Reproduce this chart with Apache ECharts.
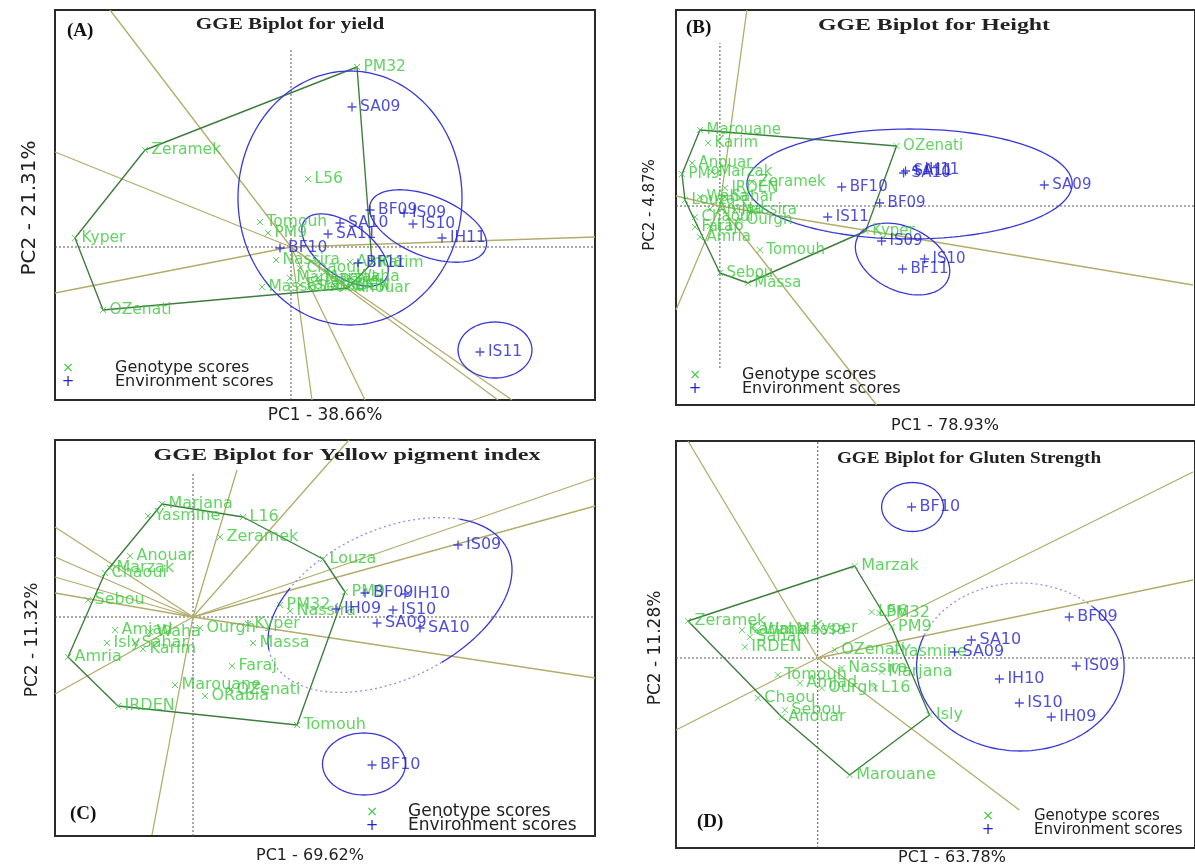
<!DOCTYPE html>
<html><head><meta charset="utf-8">
<script src="https://cdn.jsdelivr.net/npm/echarts@6/dist/echarts.min.js"></script>
<style>html,body{margin:0;padding:0;background:#fff}#c{width:1195px;height:868px}</style>
</head><body><div id="c"></div>
<script>
// ---------- Panel A : yield ----------
const genoA_names = ["PM32","Zeramek","Kyper","OZenati","L56","Tomouh","PM9","Nassira","Massa","Chaoui","Amria","Marzak","Sebou","IRDEN","Faraj","Isly","Marjana","Karim","Anouar","Waha"];
const genoA_pc1 = [6.6,-14.6,-21.6,-18.8,1.7,-3.1,-2.3,-1.5,-2.9,0.9,5.9,2.7,1.9,4.4,0.9,6.4,-0.1,8.1,5.7,5.9];
const genoA_pc2 = [18.0,9.7,0.9,-6.3,6.8,2.5,1.4,-1.3,-4.0,-2.1,-1.5,-3.1,-4.0,-3.9,-3.8,-3.7,-3.1,-1.6,-4.1,-3.0];
const envA_names = ["SA09","BF09","IS09","IS10","IH11","SA10","SA11","BF10","BF11","IS11"];
const envA_pc1 = [6.1,7.9,11.3,12.2,15.1,4.9,3.7,-1.1,6.7,18.9];
const envA_pc2 = [14.0,3.7,3.4,2.3,0.9,2.4,1.3,-0.1,-1.6,-10.5];
const hullA = ["PM32","Karim","Anouar","OZenati","Kyper","Zeramek"];
const raysA_pc1 = [-18.1,-23.6,-23.6,30.4,2.1,7.4,20.7,22.1];
const raysA_pc2 = [23.7,9.5,-4.6,1.0,-15.3,-15.3,-15.3,-15.3];
// ellipses: centre pc1, centre pc2, semi-axis a, semi-axis b, tilt (deg)
const ellA = [[5.9,4.9,11.2,12.7,0],[13.7,2.1,6.2,3.0,-22],[5.4,-0.3,5.0,2.6,-36],[20.4,-10.3,3.7,2.8,0]];

// ---------- Panel B : height ----------
const genoB_names = ["Marouane","Karim","Anouar","PM9","Marzak","Zeramek","IRDEN","Waha","Louza","Chaoui","Faraj","Amria","Amjad","Sahar","Nassira","Ourgh","L16","Tomouh","Sebou","Massa","OZenati","Kyper"];
const genoB_pc1 = [-2.0,-1.2,-2.8,-3.8,-0.8,3.2,0.5,-2.0,-3.5,-2.5,-2.5,-2.0,-1.0,0.5,1.5,2.0,-1.0,4.0,0.0,2.8,17.7,14.6];
const genoB_pc2 = [7.6,6.3,4.3,3.2,3.4,2.4,1.8,0.9,0.6,-1.1,-2.1,-3.1,-0.3,0.9,-0.4,-1.4,-2.0,-4.4,-6.7,-7.7,6.0,-2.5];
const envB_names = ["SA11","SA10","IH11","SA09","BF10","BF09","IS11","IS09","IS10","BF11"];
const envB_pc1 = [18.6,18.4,19.7,32.5,12.2,16.0,10.8,16.2,20.5,18.3];
const envB_pc2 = [3.5,3.3,3.6,2.1,1.9,0.3,-1.1,-3.5,-5.3,-6.3];
const hullB = ["Marouane","OZenati","Kyper","Massa","Sebou","Louza","PM9"];
const raysB_pc1 = [2.7,47.4,15.7,-4.4,-4.4];
const raysB_pc2 = [19.6,-7.9,-19.9,-10.4,1.0];
const ellB = [[19.0,2.2,16.3,5.5,0],[18.3,-5.3,5.0,3.2,-25]];

// ---------- Panel C : yellow pigment index ----------
const genoC_names = ["Marjana","Yasmine","L16","Zeramek","Anouar","Marzak","Chaoui","Sebou","Louza","PM32","Nassira","PM9","Amjad","Isly","Sahar","Karim","Waha","Ourgh","Kyper","Massa","Faraj","Marouane","ORabia","OZenati","IRDEN","Amria","Tomouh"];
const genoC_pc1 = [-3.1,-4.5,5.0,2.7,-6.3,-8.3,-8.8,-10.5,13.0,8.7,9.7,15.2,-7.8,-8.6,-5.8,-5.0,-4.3,0.7,5.5,6.0,3.9,-1.8,1.2,3.7,-7.5,-12.5,10.4];
const genoC_pc2 = [11.3,10.1,10.0,8.0,6.1,4.9,4.4,1.7,5.8,1.2,0.6,2.5,-1.3,-2.6,-2.6,-3.2,-1.5,-1.1,-0.7,-2.6,-4.9,-6.8,-7.9,-7.3,-8.9,-4.0,-10.8];
const envC_names = ["IS09","BF09","IH10","IH09","IS10","SA09","SA10","BF10"];
const envC_pc1 = [26.5,17.2,21.2,14.3,20.0,18.4,22.7,17.9];
const envC_pc2 = [7.2,2.4,2.3,0.8,0.7,-0.6,-1.1,-14.8];
const hullC = ["Marjana","L16","Louza","PM9","Tomouh","IRDEN","Amria","Chaoui"];
const raysC_pc1 = [4.4,15.6,40.2,40.2,40.2,-4.1,-13.8,-13.8,-13.8,-13.8,-13.8];
const raysC_pc2 = [14.7,17.7,13.9,11.1,-6.1,-21.8,-7.7,9.0,6.0,4.0,2.4];
const ellC = [[19.7,1.2,13.0,7.5,25],[17.1,-14.7,4.15,3.1,0]];

// ---------- Panel D : gluten strength ----------
const genoD_names = ["Marzak","Zeramek","Karim","Waha","Massa","Kyper","PM9","L56","PM32","Sahar","IRDEN","OZenati","Yasmine","Nassira","Marjana","Tomouh","Amjad","Ourgh","L16","Chaou","Sebou","Anouar","Isly","Marouane"];
const genoD_pc1 = [3.7,-13.0,-7.6,-6.1,-2.8,-1.2,7.4,5.4,6.2,-6.8,-7.3,1.7,7.7,2.4,6.4,-4.0,-1.8,0.4,5.7,-6.0,-3.3,-3.6,11.2,3.2];
const genoD_pc2 = [9.2,3.7,2.8,2.8,2.8,3.0,3.1,4.6,4.5,2.1,1.1,0.8,0.6,-1.0,-1.4,-1.7,-2.5,-3.0,-3.0,-4.0,-5.2,-5.9,-5.7,-11.7];
const envD_names = ["BF10","BF09","SA10","SA09","IS09","IH10","IS10","IH09"];
const envD_pc1 = [9.4,25.2,15.4,13.7,25.9,18.2,20.2,23.4];
const envD_pc2 = [15.1,4.1,1.8,0.6,-0.8,-2.1,-4.5,-5.9];
const hullD = ["Marzak","PM9","Isly","Marouane","Anouar","Zeramek"];
const raysD_pc1 = [-13.0,37.6,37.6,20.2,-14.2];
const raysD_pc2 = [21.7,18.6,7.8,-15.2,-7.2];
const ellD = [[9.5,15.1,3.1,2.45,0],[20.3,-0.9,10.4,8.4,0]];

// ---------- layout (pixels) & axis windows ----------
const layout = [
  {left:55, top:10, width:540, height:390, x:[-23.6,30.4], y:[-15.3,23.7], vy:[-15.3,19.7], lbl:15.5},
  {left:676,top:10, width:520, height:395, x:[-4.4,47.6], y:[-19.9,19.6], vy:[-16.2,16.3], lbl:15},
  {left:55, top:440,width:540, height:396, x:[-13.8,40.2], y:[-21.9,17.7], vy:[-21.9,14.5], lbl:16},
  {left:676,top:441,width:520, height:407, x:[-14.2,37.8], y:[-19.0,21.7], vy:[-19.0,21.7], lbl:16}
];
// which parts of each ellipse are solid / dotted (parameter angle ranges, degrees)
const ellParts = [
  [[[0,360,'s']],[[0,360,'s']],[[0,360,'s']],[[0,360,'s']]],
  [[[0,360,'s']],[[0,360,'s']]],
  [[[-80,40,'s'],[40,130,'d'],[130,172,'s'],[172,280,'d']],[[0,360,'s']]],
  [[[0,360,'s']],[[46,158,'d'],[158,406,'s']]]
];

const P = [
  {gn:genoA_names,gx:genoA_pc1,gy:genoA_pc2,en:envA_names,ex:envA_pc1,ey:envA_pc2,hull:hullA,rx:raysA_pc1,ry:raysA_pc2,ell:ellA},
  {gn:genoB_names,gx:genoB_pc1,gy:genoB_pc2,en:envB_names,ex:envB_pc1,ey:envB_pc2,hull:hullB,rx:raysB_pc1,ry:raysB_pc2,ell:ellB},
  {gn:genoC_names,gx:genoC_pc1,gy:genoC_pc2,en:envC_names,ex:envC_pc1,ey:envC_pc2,hull:hullC,rx:raysC_pc1,ry:raysC_pc2,ell:ellC},
  {gn:genoD_names,gx:genoD_pc1,gy:genoD_pc2,en:envD_names,ex:envD_pc1,ey:envD_pc2,hull:hullD,rx:raysD_pc1,ry:raysD_pc2,ell:ellD}
];

const GREEN='#3cc83c', BLUE='#2222cc', HULL='#3f7d3f', RAY='#b2ac6c', ELL='#3838d8', ELLD='#9090e6';
const LBL='DejaVu Sans';
function ellipsePts(e,t0,t1){
  const [cx,cy,a,b,ang]=e, th=ang*Math.PI/180, pts=[];
  for(let t=t0;t<=t1+1e-6;t+=2){const r=t*Math.PI/180;
    pts.push([cx+a*Math.cos(r)*Math.cos(th)-b*Math.sin(r)*Math.sin(th), cy+a*Math.cos(r)*Math.sin(th)+b*Math.sin(r)*Math.cos(th)]);}
  return pts;
}
function lineS(i,data,style,z){
  return {type:'line',xAxisIndex:i,yAxisIndex:i,data:data,symbol:'none',silent:true,animation:false,clip:true,
    lineStyle:style,z:z};
}
const grids=[],xAxes=[],yAxes=[],series=[];
layout.forEach((L,i)=>{
  grids.push({left:L.left,top:L.top,width:L.width,height:L.height,show:true,borderColor:'#2a2a2a',borderWidth:2,backgroundColor:'#fff',containLabel:false});
  xAxes.push({type:'value',gridIndex:i,min:L.x[0],max:L.x[1],show:false});
  yAxes.push({type:'value',gridIndex:i,min:L.y[0],max:L.y[1],show:false});
  const p=P[i];
  series.push(lineS(i,[[L.x[0],0],[L.x[1],0]],{color:'#555',width:1,type:[2,2]},1));
  series.push(lineS(i,[[0,L.vy[0]],[0,L.vy[1]]],{color:'#555',width:1,type:[2,2]},1));
  p.rx.forEach((v,k)=>series.push(lineS(i,[[0,0],[v,p.ry[k]]],{color:RAY,width:1.3},2)));
  const hp=p.hull.map(n=>{const k=p.gn.indexOf(n);return [p.gx[k],p.gy[k]];});
  hp.push(hp[0]);
  series.push(lineS(i,hp,{color:HULL,width:1.4},3));
  p.ell.forEach((e,k)=>{
    ellParts[i][k].forEach(seg=>{
      series.push(lineS(i,ellipsePts(e,seg[0],seg[1]),seg[2]==='s'?{color:ELL,width:1.3}:{color:ELLD,width:1.3,type:[2,3]},4));
    });
  });
  series.push({type:'scatter',xAxisIndex:i,yAxisIndex:i,animation:false,silent:true,z:5,
    symbol:'path://M0 0L10 10M10 0L0 10',symbolSize:6,
    itemStyle:{color:'none',borderColor:GREEN,borderWidth:1},
    label:{show:true,position:'right',distance:1,formatter:'{b}',color:GREEN,fontSize:L.lbl,fontFamily:LBL},
    data:p.gn.map((n,k)=>({name:n,value:[p.gx[k],p.gy[k]]}))});
  series.push({type:'scatter',xAxisIndex:i,yAxisIndex:i,animation:false,silent:true,z:6,
    symbol:'path://M5 0L5 10M0 5L10 5',symbolSize:9,
    itemStyle:{color:'none',borderColor:BLUE,borderWidth:1.3},
    label:{show:true,position:'right',distance:1,formatter:'{b}',color:BLUE,fontSize:L.lbl,fontFamily:LBL},
    data:p.en.map((n,k)=>({name:n,value:[p.ex[k],p.ey[k]]}))});
});

// texts: [text, x, y, fontSize, scaleX]
const titles=[["GGE Biplot for yield",290,25,16,1.32],["GGE Biplot for Height",934,26,17,1.4],["GGE Biplot for Yellow pigment index",347,456,17,1.42],["GGE Biplot for Gluten Strength",969,459,16,1.2]];
const tags=[["(A)",67,31],["(B)",686,28],["(C)",70,814],["(D)",697,822]];
const xTitles=[["PC1 - 38.66%",325,416,17],["PC1 - 78.93%",945,426,16],["PC1 - 69.62%",310,856,16],["PC1 - 63.78%",952,858,16]];
const yTitles=[["PC2 - 21.31%",30,208,20],["PC2 - 4.87%",650,205,15],["PC2 - 11.32%",33,640,17],["PC2 - 11.28%",656,648,17]];
const legendPos=[[68,115,368,16],[695,742,375,16],[372,408,812,17],[988,1034,816,15]];
const g=[];
titles.forEach(t=>g.push({type:'text',x:t[1],y:t[2],scaleX:t[4],style:{text:t[0],font:'bold '+t[3]+'px "Liberation Serif"',fill:'#222',align:'center',verticalAlign:'middle'},z:100}));
tags.forEach(t=>g.push({type:'text',x:t[1],y:t[2],style:{text:t[0],font:'bold 19px "Liberation Serif"',fill:'#111',align:'left',verticalAlign:'middle'},z:100}));
xTitles.forEach(t=>g.push({type:'text',x:t[1],y:t[2],style:{text:t[0],font:t[3]+'px "DejaVu Sans"',fill:'#222',align:'center',verticalAlign:'middle'},z:100}));
yTitles.forEach(t=>g.push({type:'text',x:t[1],y:t[2],rotation:Math.PI/2,style:{text:t[0],font:t[3]+'px "DejaVu Sans"',fill:'#222',align:'center',verticalAlign:'middle'},z:100}));
legendPos.forEach(l=>{
  g.push({type:'text',x:l[0],y:l[2],style:{text:'×',font:'14px "DejaVu Sans"',fill:GREEN,align:'center',verticalAlign:'middle'},z:100});
  g.push({type:'text',x:l[0],y:l[2]+14,style:{text:'+',font:'15px "DejaVu Sans"',fill:BLUE,align:'center',verticalAlign:'middle'},z:100});
  g.push({type:'text',x:l[1],y:l[2],style:{text:'Genotype scores',font:l[3]+'px "DejaVu Sans"',fill:'#222',align:'left',verticalAlign:'middle'},z:100});
  g.push({type:'text',x:l[1],y:l[2]+14,style:{text:'Environment scores',font:l[3]+'px "DejaVu Sans"',fill:'#222',align:'left',verticalAlign:'middle'},z:100});
});

const chart=echarts.init(document.getElementById('c'),null,{renderer:'canvas'});
chart.setOption({animation:false,backgroundColor:'#fff',grid:grids,xAxis:xAxes,yAxis:yAxes,series:series,graphic:g});
</script></body></html>
